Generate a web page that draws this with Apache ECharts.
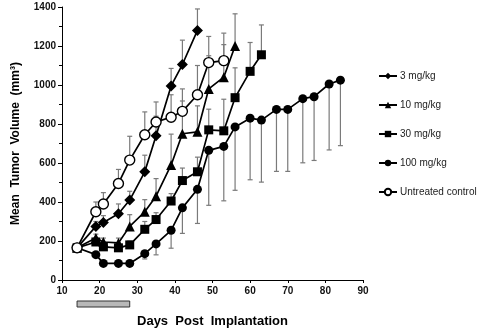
<!DOCTYPE html>
<html><head><meta charset="utf-8">
<script src="https://cdn.jsdelivr.net/npm/echarts@6/dist/echarts.min.js"></script>
<style>html,body{margin:0;padding:0;background:#fff}#c{width:480px;height:333px}</style>
</head><body><div id="c"></div>
<script>
const seriesNames = ['3 mg/kg','10 mg/kg','30 mg/kg','100 mg/kg','Untreated control'];
const xTicks = [10,20,30,40,50,60,70,80,90];
const yTicks = [0,200,400,600,800,1000,1200,1400];
const treatmentDays = [14,28];

const days3 = [14,19,21,25,28,32,35,39,42,46];
const mean3 = [165,275,295,340,410,555,740,995,1105,1280];
const err3  = [165,300,330,390,455,640,840,1085,1230,1390];

const days10 = [14,19,21,25,28,32,35,39,42,46,49,53,56];
const mean10 = [165,215,195,190,275,350,430,590,750,760,980,1040,1200];
const err10  = [165,235,215,215,335,412,520,748,918,893,1150,1207,1365];

const days30 = [14,19,21,25,28,32,35,39,42,46,49,53,56,60,63];
const mean30 = [165,195,170,165,180,260,310,405,510,555,770,765,935,1070,1155];
const err30  = [165,215,190,190,200,300,345,443,574,630,876,927,1088,1218,1308];

const days100 = [14,19,21,25,28,32,35,39,42,46,49,53,56,60,63,67,70,74,77,81,84];
const mean100 = [165,130,85,85,85,135,185,255,370,465,665,685,785,830,820,875,875,930,940,1005,1025];
const err100  = [165,115,70,70,70,108,129,163,239,290,383,406,460,514,502,557,557,601,613,667,689];

const daysCtrl = [14,19,21,25,28,32,35,39,42,46,49,53];
const meanCtrl = [165,350,390,495,615,745,810,835,865,950,1115,1125];
const errCtrl  = [165,400,448,567,737,862,913,950,980,1100,1249,1266];

const groups = [
  {name: seriesNames[0], d: days3, m: mean3, e: err3, symbol: 'diamond', size: 11, fill: '#000'},
  {name: seriesNames[1], d: days10, m: mean10, e: err10, symbol: 'triangle', size: 10, fill: '#000'},
  {name: seriesNames[2], d: days30, m: mean30, e: err30, symbol: 'rect', size: 9, fill: '#000'},
  {name: seriesNames[3], d: days100, m: mean100, e: err100, symbol: 'circle', size: 9, fill: '#000'},
  {name: seriesNames[4], d: daysCtrl, m: meanCtrl, e: errCtrl, symbol: 'circle', size: 10, fill: '#fff'}
];

function errRender(params, api) {
  const p0 = api.coord([api.value(0), api.value(1)]);
  const p1 = api.coord([api.value(0), api.value(2)]);
  if (Math.abs(p1[1] - p0[1]) < 1) return null;
  const st = {stroke: '#7a7a7a', lineWidth: 1.2};
  return {type: 'group', children: [
    {type: 'line', shape: {x1: p0[0], y1: p0[1], x2: p1[0], y2: p1[1]}, style: st},
    {type: 'line', shape: {x1: p1[0] - 2.5, y1: p1[1], x2: p1[0] + 2.5, y2: p1[1]}, style: st}
  ]};
}

const series = [];
groups.forEach(g => {
  series.push({
    type: 'custom', name: g.name + ' err', renderItem: errRender, z: 1, silent: true,
    encode: {x: 0, y: [1, 2]},
    data: g.d.map((x, i) => [x, g.m[i], g.e[i]])
  });
});
groups.forEach(g => {
  series.push({
    type: 'line', name: g.name, z: 3,
    data: g.d.map((x, i) => [x, g.m[i]]),
    symbol: g.symbol, symbolSize: g.size, showAllSymbol: true,
    lineStyle: {color: '#000', width: 1.7},
    itemStyle: {color: g.fill, borderColor: '#000', borderWidth: g.fill === '#fff' ? 1.4 : 0},
    emphasis: {disabled: true}
  });
});
series.push({
  type: 'custom', name: 'treatment', clip: false, silent: true, z: 2,
  renderItem: function (params, api) {
    const a = api.coord([api.value(0), 0]);
    const b = api.coord([api.value(1), 0]);
    return {type: 'rect', shape: {x: a[0], y: a[1] + 21, width: b[0] - a[0], height: 6},
      style: {fill: '#b8b8b8', stroke: '#333', lineWidth: 1}};
  },
  data: [treatmentDays]
});

const chart = echarts.init(document.getElementById('c'), null, {renderer: 'canvas'});
const font = 'Liberation Sans, Arial, sans-serif';
chart.setOption({
  animation: false,
  textStyle: {fontFamily: font},
  grid: {left: 62, right: 117, top: 7, bottom: 51, containLabel: false},
  legend: {
    orient: 'vertical', left: 373, top: 66, itemGap: 19, itemWidth: 18, itemHeight: 8,
    data: seriesNames,
    textStyle: {fontFamily: font, fontSize: 10, color: '#222', padding: [0, 0, 0, -2]}
  },
  xAxis: {
    type: 'value', min: xTicks[0], max: xTicks[xTicks.length - 1], interval: 10,
    name: 'Days  Post  Implantation', nameLocation: 'middle', nameGap: 35,
    nameTextStyle: {fontFamily: font, fontSize: 13, fontWeight: 'bold', color: '#000'},
    axisLine: {onZero: false, lineStyle: {color: '#000', width: 1}},
    axisTick: {show: true, length: 3, lineStyle: {color: '#000'}},
    axisLabel: {fontFamily: font, fontSize: 10, fontWeight: 'bold', color: '#111', margin: 6,
      formatter: v => String(v)},
    splitLine: {show: false}
  },
  yAxis: {
    type: 'value', min: yTicks[0], max: yTicks[yTicks.length - 1], interval: 200,
    name: 'Mean  Tumor  Volume  (mm\u00B3)', nameLocation: 'middle', nameGap: 40,
    nameTextStyle: {fontFamily: font, fontSize: 12, fontWeight: 'bold', color: '#000'},
    axisLine: {show: true, lineStyle: {color: '#000', width: 1}},
    axisTick: {show: true, length: 4, lineStyle: {color: '#000'}},
    minorTick: {show: true, splitNumber: 2, length: 3, lineStyle: {color: '#000'}},
    axisLabel: {fontFamily: font, fontSize: 10, fontWeight: 'bold', color: '#111', margin: 6,
      formatter: v => String(v)},
    splitLine: {show: false}
  },
  series: series
});
</script></body></html>
